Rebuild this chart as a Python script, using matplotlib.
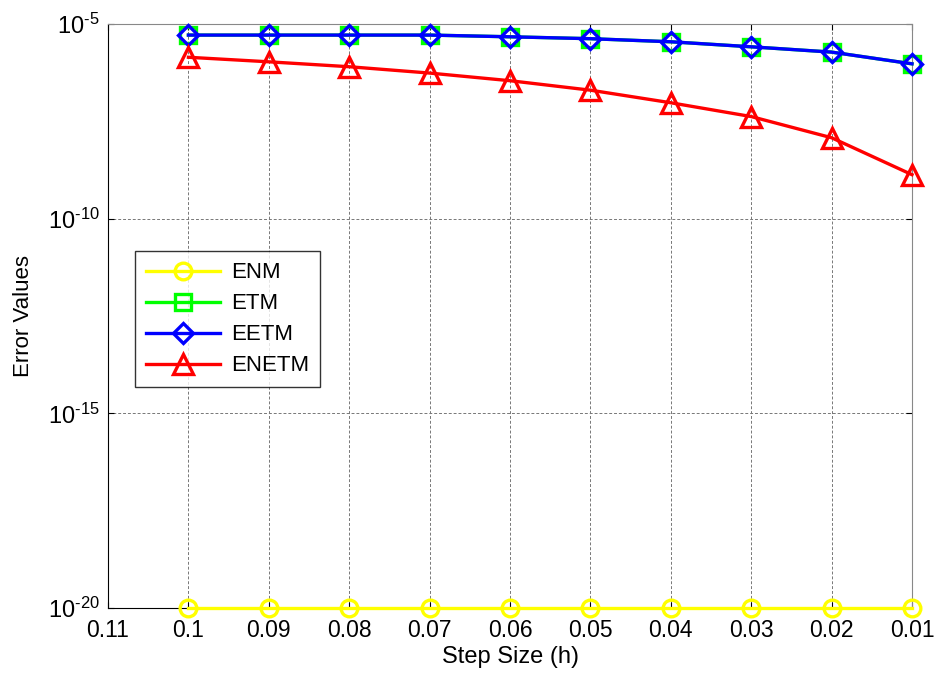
import matplotlib.pyplot as plt
import numpy as np

plt.rcParams['font.family'] = ['Liberation Sans', 'DejaVu Sans']
plt.rcParams['mathtext.fontset'] = 'custom'
plt.rcParams['mathtext.rm'] = 'Liberation Sans'
plt.rcParams['mathtext.it'] = 'Liberation Sans'

# step sizes and error values
h = [0.1, 0.09, 0.08, 0.07, 0.06, 0.05, 0.04, 0.03, 0.02, 0.01]
enm = [1e-20] * 10
etm = [5.2e-6, 5.2e-6, 5.2e-6, 5.2e-6, 4.7e-6, 4.2e-6, 3.5e-6, 2.6e-6, 1.9e-6, 9.5e-7]
eetm = [5.2e-6, 5.2e-6, 5.2e-6, 5.2e-6, 4.7e-6, 4.2e-6, 3.5e-6, 2.6e-6, 1.9e-6, 9.5e-7]
enetm = [1.4e-6, 1.07e-6, 8.0e-7, 5.5e-7, 3.5e-7, 2.0e-7, 9.5e-8, 4.2e-8, 1.2e-8, 1.35e-9]

xticks = [0.11, 0.1, 0.09, 0.08, 0.07, 0.06, 0.05, 0.04, 0.03, 0.02, 0.01]
xticklabels = ['0.11', '0.1', '0.09', '0.08', '0.07', '0.06', '0.05', '0.04', '0.03', '0.02', '0.01']
yticks = [1e-20, 1e-15, 1e-10, 1e-5]
yticklabels = [r'$10^{\text{-}20}$', r'$10^{\text{-}15}$', r'$10^{\text{-}10}$', r'$10^{\text{-}5}$']

fig = plt.figure(figsize=(9.37, 6.73), dpi=100)
ax = fig.add_axes([0.1153, 0.0966, 0.858, 0.8677])

kw = dict(mfc='none', mew=2.4, lw=2.4, clip_on=False, zorder=5)
ax.plot(h, enm, color='#ffff00', marker='o', ms=12, label='ENM', **kw)
ax.plot(h, etm, color='#00ff00', marker='s', ms=12, label='ETM', **kw)
ax.plot(h, eetm, color='#0000ff', marker='D', ms=10, label='EETM', **kw)
ax.plot(h, enetm, color='#ff0000', marker='^', ms=14, label='ENETM', **kw)

ax.set_yscale('log')
ax.set_xlim(0.11, 0.01)
ax.set_ylim(1e-20, 1e-5)
ax.set_xticks(xticks)
ax.set_xticklabels(xticklabels)
ax.set_yticks(yticks)
ax.set_yticklabels(yticklabels)
ax.yaxis.set_minor_locator(plt.NullLocator())

ax.grid(True, linestyle=(0, (3, 2)), color='#777777', lw=0.7)
ax.tick_params(direction='in', length=4, top=True, right=True)
ax.tick_params(axis='x', labelsize=16.5, pad=8)
ax.tick_params(axis='y', labelsize=17, pad=6)
for s in ['top', 'right']:
    ax.spines[s].set_color('#888888')
ax.spines['left'].set_color('black')
ax.spines['bottom'].set_color('black')

ax.set_xlabel('Step Size (h)', fontsize=17, labelpad=3)
ax.set_ylabel('Error Values', fontsize=16, labelpad=10)

leg = ax.legend(loc='upper left', bbox_to_anchor=(0.033, 0.611), fontsize=16, frameon=True,
                fancybox=False, edgecolor='black', handlelength=3.35, borderpad=0.5,
                labelspacing=0.45, handletextpad=0.5, borderaxespad=0)
leg.get_frame().set_linewidth(1.0)

fig.savefig('out.png', dpi=100)
